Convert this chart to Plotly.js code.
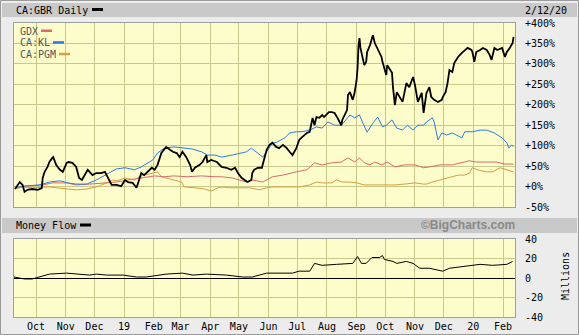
<!DOCTYPE html>
<html><head><meta charset="utf-8">
<script src="https://cdn.plot.ly/plotly-3.0.1.min.js"></script>
<style>html,body{margin:0;padding:0;background:#ececec;}#chart{width:579px;height:335px;}</style>
</head><body><div id="chart"></div>
<script>
// ---- data ----
const gbrDates = ['2018-09-09','2018-09-14','2018-09-17','2018-09-19','2018-09-22','2018-09-27','2018-10-03','2018-10-07','2018-10-08','2018-10-10','2018-10-13','2018-10-15','2018-10-18','2018-10-19','2018-10-22','2018-10-26','2018-10-29','2018-11-02','2018-11-04','2018-11-08','2018-11-12','2018-11-15','2018-11-18','2018-11-21','2018-11-24','2018-11-26','2018-11-29','2018-12-03','2018-12-08','2018-12-12','2018-12-15','2018-12-19','2018-12-24','2018-12-29','2019-01-02','2019-01-05','2019-01-10','2019-01-14','2019-01-15','2019-01-19','2019-01-22','2019-01-26','2019-01-30','2019-02-02','2019-02-05','2019-02-09','2019-02-12','2019-02-14','2019-02-18','2019-02-21','2019-02-25','2019-02-28','2019-03-03','2019-03-07','2019-03-11','2019-03-13','2019-03-16','2019-03-21','2019-03-24','2019-03-28','2019-03-29','2019-04-02','2019-04-08','2019-04-13','2019-04-18','2019-04-23','2019-04-27','2019-04-30','2019-05-04','2019-05-07','2019-05-10','2019-05-14','2019-05-15','2019-05-17','2019-05-21','2019-05-25','2019-05-28','2019-05-30','2019-06-02','2019-06-05','2019-06-09','2019-06-12','2019-06-16','2019-06-20','2019-06-23','2019-06-26','2019-06-30','2019-07-03','2019-07-06','2019-07-11','2019-07-14','2019-07-17','2019-07-19','2019-07-21','2019-07-24','2019-07-27','2019-07-29','2019-08-03','2019-08-06','2019-08-09','2019-08-12','2019-08-16','2019-08-17','2019-08-22','2019-08-23','2019-08-25','2019-08-28','2019-08-30','2019-09-01','2019-09-02','2019-09-03','2019-09-04','2019-09-05','2019-09-07','2019-09-09','2019-09-11','2019-09-12','2019-09-15','2019-09-18','2019-09-20','2019-09-22','2019-09-25','2019-09-27','2019-09-28','2019-09-30','2019-10-02','2019-10-03','2019-10-08','2019-10-09','2019-10-11','2019-10-13','2019-10-16','2019-10-19','2019-10-23','2019-10-26','2019-10-30','2019-11-01','2019-11-04','2019-11-08','2019-11-10','2019-11-13','2019-11-16','2019-11-18','2019-11-21','2019-11-25','2019-11-29','2019-11-30','2019-12-03','2019-12-05','2019-12-07','2019-12-10','2019-12-12','2019-12-16','2019-12-20','2019-12-23','2019-12-26','2019-12-30','2019-12-31','2020-01-02','2020-01-04','2020-01-08','2020-01-11','2020-01-15','2020-01-18','2020-01-20','2020-01-23','2020-01-26','2020-01-31','2020-02-03','2020-02-05','2020-02-08','2020-02-11','2020-02-12'];
const gbrPct = [-6,11,4,-13,-8,-6,-8,-4,21,36,48,60,70,72,53,41,36,58,60,58,48,21,16,28,41,36,28,33,33,36,21,4,4,1,16,11,9,-3,4,33,28,36,46,41,53,82,90,97,90,85,82,72,85,72,53,36,46,53,60,77,60,65,60,48,46,41,46,33,21,16,11,16,33,41,46,46,72,90,102,107,97,94,102,94,85,77,94,114,121,131,134,168,150,170,168,175,170,182,182,180,168,150,163,187,224,231,212,231,260,290,346,363,339,314,297,305,329,346,370,351,341,329,317,305,290,273,297,278,243,199,231,219,207,253,243,268,248,207,229,180,229,243,219,212,207,212,219,231,253,285,280,302,317,327,334,339,334,329,305,329,334,339,334,322,310,339,334,339,317,329,339,351,366];

const klDates = ['2018-09-09','2018-09-17','2018-10-05','2018-10-15','2018-10-26','2018-11-03','2018-11-12','2018-11-23','2018-12-03','2018-12-14','2018-12-24','2019-01-02','2019-01-12','2019-01-19','2019-01-26','2019-01-31','2019-02-05','2019-02-12','2019-02-22','2019-03-03','2019-03-13','2019-03-23','2019-03-29','2019-04-06','2019-04-13','2019-04-24','2019-05-09','2019-05-14','2019-05-19','2019-05-26','2019-05-30','2019-06-05','2019-06-10','2019-06-18','2019-06-23','2019-06-30','2019-07-06','2019-07-14','2019-07-21','2019-07-27','2019-08-02','2019-08-09','2019-08-16','2019-08-19','2019-08-25','2019-08-30','2019-09-04','2019-09-07','2019-09-12','2019-09-18','2019-09-23','2019-09-28','2019-10-02','2019-10-08','2019-10-13','2019-10-19','2019-10-24','2019-10-30','2019-11-04','2019-11-10','2019-11-13','2019-11-19','2019-11-21','2019-11-25','2019-11-29','2019-12-04','2019-12-10','2019-12-20','2019-12-23','2019-12-31','2020-01-08','2020-01-15','2020-01-23','2020-01-31','2020-02-05','2020-02-07','2020-02-10','2020-02-12'];
const klPct = [-3,1,4,11,14,9,6,6,16,31,43,46,41,48,58,65,82,94,97,94,92,85,77,77,72,77,85,94,85,72,85,106,109,119,131,134,134,138,146,143,158,150,150,158,175,168,175,158,133,155,170,146,150,163,143,138,150,138,150,150,158,168,158,114,131,126,131,119,134,134,138,138,131,119,107,94,102,97];

const gdxDates = ['2018-09-09','2018-09-21','2018-10-08','2018-10-18','2018-11-02','2018-11-12','2018-11-26','2018-12-10','2018-12-24','2019-01-05','2019-01-19','2019-02-02','2019-02-12','2019-02-22','2019-03-08','2019-03-23','2019-04-06','2019-04-13','2019-04-24','2019-05-09','2019-05-15','2019-05-26','2019-06-05','2019-06-16','2019-06-30','2019-07-11','2019-07-19','2019-07-27','2019-08-06','2019-08-16','2019-08-23','2019-08-30','2019-09-04','2019-09-09','2019-09-15','2019-09-20','2019-09-27','2019-10-03','2019-10-11','2019-10-21','2019-11-01','2019-11-10','2019-11-16','2019-11-27','2019-12-10','2019-12-20','2019-12-28','2020-01-04','2020-01-15','2020-01-25','2020-02-03','2020-02-12'];
const gdxPct = [-3,1,4,9,9,4,6,9,11,16,21,26,24,26,24,26,24,24,21,11,16,11,24,28,36,41,58,53,58,60,70,60,70,58,53,60,53,60,48,53,53,46,48,53,53,58,63,60,60,60,55,55];

const pgmDates = ['2018-09-09','2018-09-17','2018-09-27','2018-10-08','2018-10-15','2018-10-22','2018-11-02','2018-11-12','2018-11-23','2018-12-03','2018-12-14','2018-12-20','2018-12-24','2019-01-02','2019-01-12','2019-01-17','2019-01-22','2019-01-30','2019-02-05','2019-02-09','2019-02-16','2019-02-22','2019-03-02','2019-03-05','2019-03-16','2019-03-26','2019-04-02','2019-04-09','2019-04-14','2019-04-21','2019-05-02','2019-05-12','2019-05-23','2019-05-30','2019-06-05','2019-06-20','2019-07-03','2019-07-14','2019-07-21','2019-07-27','2019-08-06','2019-08-11','2019-08-17','2019-08-25','2019-09-01','2019-09-09','2019-09-20','2019-09-30','2019-10-11','2019-10-21','2019-11-01','2019-11-10','2019-11-13','2019-11-19','2019-11-27','2019-12-02','2019-12-09','2019-12-16','2019-12-23','2019-12-28','2019-12-31','2020-01-05','2020-01-15','2020-01-21','2020-01-29','2020-02-05','2020-02-12'];
const pgmPct = [-6,-1,-3,-1,-1,-3,-6,-8,-6,-1,9,16,14,21,16,24,28,33,36,24,19,16,11,-1,-3,-6,-11,-3,-1,-3,-3,-3,-8,-3,-1,-1,-1,4,11,9,9,16,11,11,9,4,4,4,4,6,9,6,6,11,16,21,24,28,28,33,46,41,36,36,46,41,36];

const mfDates = ['2018-09-08','2018-09-19','2018-09-27','2018-10-05','2018-10-15','2018-11-02','2018-11-15','2018-11-26','2018-12-03','2018-12-14','2018-12-31','2019-01-14','2019-01-24','2019-02-14','2019-03-03','2019-03-14','2019-03-28','2019-04-18','2019-05-05','2019-05-15','2019-05-30','2019-06-12','2019-06-26','2019-07-03','2019-07-14','2019-07-19','2019-07-27','2019-08-11','2019-08-21','2019-08-28','2019-09-02','2019-09-06','2019-09-11','2019-09-17','2019-09-25','2019-09-28','2019-09-30','2019-10-09','2019-10-13','2019-10-23','2019-10-30','2019-11-06','2019-11-16','2019-11-30','2019-12-07','2019-12-15','2019-12-25','2020-01-08','2020-01-21','2020-02-05','2020-02-11'];
const mfVals = [1,-1,-1,1,4,5,4,3,4,3,3,1,1,4,5,3,4,3,1,1,5,5,5,7,7,15,13,14,15,15,22,15,15,21,21,23,19,17,15,17,15,10,10,7,10,11,12,14,13,14,17];

const monthTickDates = ['2018-10-01','2018-11-01','2018-12-01','2019-01-01','2019-02-01','2019-03-01','2019-04-01','2019-05-01','2019-06-01','2019-07-01','2019-08-01','2019-09-01','2019-10-01','2019-11-01','2019-12-01','2020-01-01','2020-02-01'];
const monthTickLabels = ['Oct','Nov','Dec','19','Feb','Mar','Apr','May','Jun','Jul','Aug','Sep','Oct','Nov','Dec','20','Feb'];
const pctTicks = [-50,0,50,100,150,200,250,300,350,400];
const pctLabels = ['-50%','+0%','+50%','+100%','+150%','+200%','+250%','+300%','+350%','+400%'];
const mfTicks = [-40,-20,0,20,40];
const mfLabels = ['-40','-20','0','20','40'];

// ---- layout helpers (pixel -> paper) ----
const L = 14, R = 515, T = 23, B = 317;
const px = x => (x - L) / (R - L);
const py = y => (B - y) / (B - T);
const mono = 'DejaVu Sans Mono, monospace';
const grid = '#c8c88a';

const traces = [
  {x: pgmDates, y: pgmPct, xaxis: 'x2', yaxis: 'y', mode: 'lines', line: {color: '#d4a040', width: 1}, hoverinfo: 'skip'},
  {x: gdxDates, y: gdxPct, xaxis: 'x2', yaxis: 'y', mode: 'lines', line: {color: '#d86b6b', width: 1}, hoverinfo: 'skip'},
  {x: klDates, y: klPct, xaxis: 'x2', yaxis: 'y', mode: 'lines', line: {color: '#2a7be6', width: 1}, hoverinfo: 'skip'},
  {x: gbrDates, y: gbrPct, xaxis: 'x2', yaxis: 'y', mode: 'lines', line: {color: '#000', width: 1.8}, hoverinfo: 'skip'},
  {x: mfDates, y: mfVals, xaxis: 'x', yaxis: 'y2', mode: 'lines', line: {color: '#000', width: 1}, hoverinfo: 'skip'}
];

const rect = (x0, y0, x1, y1, fill) => ({type: 'rect', xref: 'paper', yref: 'paper', x0: px(x0), x1: px(x1), y0: py(y1), y1: py(y0), fillcolor: fill, line: {width: 0}, layer: 'below'});
const ann = (x, y, text, xanchor, color, extra) => Object.assign({xref: 'paper', yref: 'paper', x: px(x), y: py(y), text: text, xanchor: xanchor, yanchor: 'middle', showarrow: false, borderpad: 0, font: {family: mono, size: 10, color: color}}, extra || {});

const xrange = ['2018-09-08', '2020-02-13 12:00'];
const layout = {
  width: 579, height: 335,
  margin: {l: L, r: 579 - R, t: T, b: 335 - B, pad: 0},
  paper_bgcolor: '#ececec', plot_bgcolor: '#fdfdcc',
  showlegend: false,
  xaxis: {type: 'date', range: xrange, anchor: 'y2', tickmode: 'array', tickvals: monthTickDates, ticktext: monthTickLabels,
          showgrid: true, gridcolor: grid, ticks: '', tickfont: {family: mono, size: 10, color: '#000'},
          showline: true, mirror: true, linecolor: '#a0a0a0', zeroline: false, automargin: false},
  xaxis2: {type: 'date', range: xrange, anchor: 'y', matches: 'x', tickmode: 'array', tickvals: monthTickDates,
          showgrid: true, gridcolor: grid, showticklabels: false, ticks: '',
          showline: true, mirror: true, linecolor: '#a0a0a0', zeroline: false, automargin: false},
  yaxis: {domain: [py(207), 1], range: [-50, 400], side: 'right', anchor: 'x2', tickmode: 'array', tickvals: pctTicks, ticktext: pctLabels,
          showgrid: true, gridcolor: grid, zeroline: false, ticks: 'outside', ticklen: 7, tickcolor: 'rgba(0,0,0,0)',
          tickfont: {family: mono, size: 10, color: '#000'}, showline: true, mirror: true, linecolor: '#a0a0a0', automargin: false},
  yaxis2: {domain: [0, py(239)], range: [-40, 40], side: 'right', anchor: 'x', tickmode: 'array', tickvals: mfTicks, ticktext: mfLabels,
          showgrid: true, gridcolor: grid, zeroline: true, zerolinecolor: '#000', zerolinewidth: 1, ticks: 'outside', ticklen: 7, tickcolor: 'rgba(0,0,0,0)',
          tickfont: {family: mono, size: 10, color: '#000'}, showline: true, mirror: true, linecolor: '#a0a0a0', automargin: false},
  shapes: [
    rect(2, 3, 577, 17, '#c9c9c9'),
    rect(2, 218, 577, 233, '#c9c9c9'),
    rect(92, 8, 103, 11, '#000'),
    rect(80, 223.5, 91, 226.5, '#000'),
    Object.assign(rect(41, 29.5, 52, 32, '#d86b6b'), {layer: 'above'}),
    Object.assign(rect(53, 41.2, 64, 43.7, '#2a7be6'), {layer: 'above'}),
    Object.assign(rect(59, 52.8, 70, 55.3, '#d4a040'), {layer: 'above'}),
    {type: 'rect', xref: 'paper', yref: 'paper', x0: px(0.5), x1: px(578.5), y0: py(334.5), y1: py(0.5), line: {color: '#9a9a9a', width: 1}, layer: 'below'}
  ],
  annotations: [
    ann(15, 10, 'CA:GBR Daily', 'left', '#000'),
    ann(524, 10, '2/12/20', 'left', '#000'),
    ann(15, 225.5, 'Money Flow', 'left', '#000'),
    ann(516, 225.5, '<b>©BigCharts.com</b>', 'right', '#8a8a8a', {font: {family: 'Liberation Sans, Arial, sans-serif', size: 12, color: '#8a8a8a'}}),
    ann(19, 31, 'GDX', 'left', '#555'),
    ann(19, 42.5, 'CA:KL', 'left', '#555'),
    ann(19, 54, 'CA:PGM', 'left', '#555'),
    ann(565, 276, 'Millions', 'center', '#000', {textangle: -90, xanchor: 'center'})
  ]
};

Plotly.newPlot('chart', traces, layout, {staticPlot: true, displayModeBar: false});
</script>
</body></html>
